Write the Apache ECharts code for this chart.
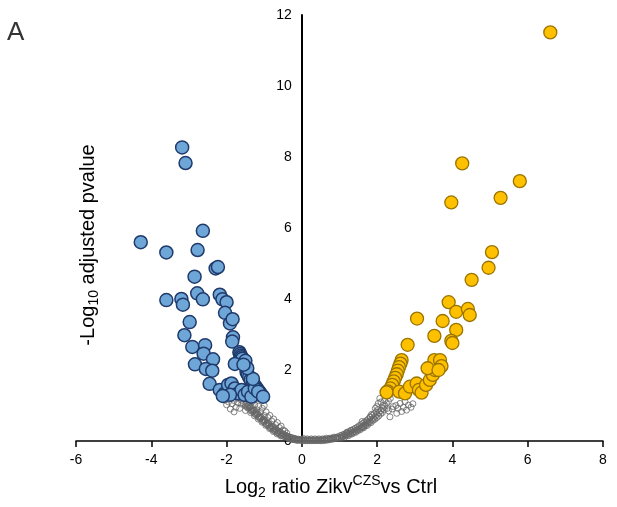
<!DOCTYPE html>
<html>
<head>
<meta charset="utf-8">
<script src="https://cdn.jsdelivr.net/npm/echarts@6/dist/echarts.min.js"></script>
<style>
  html, body { margin: 0; padding: 0; background: #fff; }
  #chart { width: 617px; height: 507px; }
</style>
</head>
<body>
<div id="chart"></div>
<script>
// Axis ticks
const xTicks = [-6, -4, -2, 0, 2, 4, 6, 8];
const yTicks = [0, 2, 4, 6, 8, 10, 12];

// Significantly down-regulated proteins [log2 ratio, -log10 adj. p]
const downRegulated = [
  [-3.18, 8.27], [-3.09, 7.83], [-2.63, 5.92], [-4.28, 5.60], [-3.60, 5.31], [-2.77, 5.38],
  [-2.29, 4.86], [-2.23, 4.90], [-2.85, 4.63], [-3.60, 3.97], [-3.20, 4.00], [-3.16, 3.84],
  [-2.78, 4.16], [-2.63, 3.99], [-2.18, 4.12], [-2.11, 3.99], [-2.00, 3.91], [-2.04, 3.61],
  [-1.91, 3.31], [-1.84, 3.43], [-2.98, 3.35], [-3.12, 2.98], [-1.83, 2.92], [-1.85, 2.80],
  [-2.91, 2.65], [-2.57, 2.70], [-2.61, 2.46], [-2.36, 2.30], [-2.84, 2.16], [-2.55, 2.03],
  [-2.38, 1.98], [-2.45, 1.61],
  [-1.66, 2.50], [-1.64, 2.45], [-1.62, 2.40], [-1.60, 2.36], [-1.58, 2.32], [-1.50, 2.26],
  [-1.78, 2.17], [-1.47, 1.95], [-1.44, 1.88], [-1.40, 1.80], [-1.36, 1.72], [-1.30, 1.65],
  [-1.26, 1.58], [-1.22, 1.52], [-1.18, 1.46], [-1.12, 1.38], [-1.07, 1.30],
  [-2.18, 1.44], [-2.05, 1.34], [-1.96, 1.58], [-1.87, 1.62], [-1.78, 1.48], [-1.69, 1.34],
  [-1.60, 1.44], [-1.52, 1.30], [-1.43, 1.39], [-1.34, 1.25], [-1.91, 1.30], [-2.10, 1.27],
  [-1.25, 1.48], [-1.16, 1.39], [-1.03, 1.25], [-1.30, 1.75], [-1.45, 2.05], [-1.55, 2.15]
];

// Significantly up-regulated proteins
const upRegulated = [
  [6.60, 11.51], [4.26, 7.82], [3.97, 6.72], [5.79, 7.32], [5.28, 6.85], [5.05, 5.32],
  [4.96, 4.88], [4.51, 4.54], [3.90, 3.91], [4.10, 3.64], [4.41, 3.72], [4.46, 3.55],
  [3.06, 3.45], [3.74, 3.38], [4.10, 3.13], [3.52, 2.96], [3.97, 2.82], [4.00, 2.76],
  [2.81, 2.71],
  [2.65, 2.28], [2.62, 2.18], [2.58, 2.08], [2.55, 1.98], [2.52, 1.88], [2.48, 1.78],
  [2.44, 1.68], [2.40, 1.58], [2.35, 1.48], [2.28, 1.40], [2.25, 1.37],
  [2.59, 1.39], [2.74, 1.34], [2.87, 1.53], [3.05, 1.62], [3.11, 1.44], [3.18, 1.36],
  [3.30, 1.58], [3.40, 1.72], [3.48, 1.86], [3.54, 2.00], [3.52, 2.28], [3.34, 2.05],
  [3.67, 2.28], [3.71, 2.11], [3.63, 2.00]
];

// Proteins below the significance threshold
const notSignificant = [
  // left branch
  [-1.90, 1.22], [-1.80, 1.14], [-1.70, 1.08], [-1.60, 1.04], [-1.55, 1.06],
  [-1.50, 1.02], [-1.45, 0.97], [-1.40, 0.92], [-1.35, 0.87], [-1.30, 0.83], [-1.25, 0.78],
  [-1.20, 0.73], [-1.15, 0.68], [-1.10, 0.63], [-1.05, 0.58], [-1.00, 0.53], [-0.95, 0.48],
  [-0.90, 0.44], [-0.85, 0.39], [-0.80, 0.35], [-0.75, 0.31], [-0.70, 0.27], [-0.65, 0.24],
  [-0.60, 0.20], [-0.55, 0.17], [-0.50, 0.14], [-0.45, 0.12], [-0.40, 0.10], [-0.35, 0.08],
  [-0.30, 0.06], [-0.25, 0.05], [-0.20, 0.04], [-0.15, 0.03], [-0.10, 0.02], [-0.05, 0.02],
  [-1.47, 1.06], [-1.42, 1.01], [-1.37, 0.96], [-1.32, 0.91], [-1.27, 0.86], [-1.22, 0.81],
  [-1.17, 0.76], [-1.12, 0.71], [-1.07, 0.66], [-1.02, 0.61], [-0.97, 0.56], [-0.92, 0.52],
  [-0.87, 0.47], [-0.82, 0.43], [-0.77, 0.39], [-0.72, 0.35], [-0.67, 0.31], [-0.62, 0.28],
  [-0.57, 0.24], [-0.52, 0.21], [-0.47, 0.18], [-0.42, 0.15], [-0.37, 0.13], [-0.32, 0.11],
  [-0.27, 0.09], [-0.22, 0.08], [-0.17, 0.06], [-0.12, 0.05], [-0.07, 0.04],
  [-1.44, 0.93], [-1.34, 0.84], [-1.24, 0.75], [-1.14, 0.66], [-1.04, 0.56], [-0.94, 0.47],
  [-0.84, 0.38], [-0.74, 0.30], [-0.64, 0.23], [-0.54, 0.16], [-0.44, 0.11], [-0.34, 0.07],
  [-0.24, 0.04], [-0.14, 0.02],
  [-1.39, 0.95], [-1.29, 0.86], [-1.19, 0.77], [-1.09, 0.68], [-0.99, 0.59], [-0.89, 0.50],
  [-0.79, 0.41], [-0.69, 0.33], [-0.59, 0.26], [-0.49, 0.19], [-0.39, 0.14], [-0.29, 0.10],
  [-0.19, 0.07], [-0.09, 0.05], [-1.49, 0.98], [-1.36, 0.80], [-1.26, 0.71], [-1.16, 0.62],
  [-1.06, 0.53], [-0.96, 0.44], [-0.86, 0.35], [-0.76, 0.27], [-0.66, 0.20], [-0.56, 0.14],
  [-2.05, 1.15], [-1.95, 1.10], [-1.85, 1.05], [-1.75, 0.95], [-1.90, 0.90], [-1.70, 1.20],
  [-1.60, 1.15], [-1.55, 1.24], [-1.45, 1.20], [-1.40, 1.08], [-1.50, 0.86], [-1.35, 0.98],
  [-1.30, 1.12], [-1.25, 1.02], [-1.20, 0.88], [-1.15, 0.98], [-1.10, 0.82], [-1.05, 0.92],
  [-1.00, 0.72], [-0.95, 0.82], [-0.90, 0.66], [-0.85, 0.72], [-0.80, 0.56], [-0.75, 0.62],
  [-0.70, 0.46], [-0.65, 0.52], [-0.60, 0.38], [-0.55, 0.42], [-0.50, 0.31], [-0.45, 0.28],
  [-0.40, 0.22], [-1.65, 0.92], [-1.80, 0.82], [-1.20, 1.18], [-1.00, 1.00], [-2.00, 1.02],
  // bottom
  [0.00, 0.01], [0.05, 0.01], [0.10, 0.01], [0.15, 0.01], [0.20, 0.01], [0.25, 0.01],
  [0.30, 0.01], [0.35, 0.01], [0.40, 0.01], [0.45, 0.01], [0.50, 0.01], [0.55, 0.01],
  [0.60, 0.02], [0.65, 0.02], [0.70, 0.03], [0.75, 0.04], [0.80, 0.05], [0.85, 0.06],
  [0.90, 0.07], [0.95, 0.08], [0.00, 0.05], [0.10, 0.04], [0.20, 0.04], [0.30, 0.04],
  [0.40, 0.04], [0.50, 0.04], [0.60, 0.05], [0.70, 0.06], [0.80, 0.08], [0.90, 0.10],
  [0.05, 0.07], [0.25, 0.06], [0.45, 0.06], [0.65, 0.08], [0.85, 0.11],
  [0.02, 0.03], [0.12, 0.02], [0.22, 0.02], [0.32, 0.02], [0.42, 0.03], [0.52, 0.03],
  [0.62, 0.03], [0.72, 0.05], [0.82, 0.07], [0.92, 0.09], [0.15, 0.06], [0.35, 0.06],
  [0.55, 0.06], [0.75, 0.08], [0.95, 0.12],
  // right branch
  [1.00, 0.10], [1.05, 0.12], [1.10, 0.14], [1.15, 0.16], [1.20, 0.18], [1.25, 0.20],
  [1.30, 0.23], [1.35, 0.25], [1.40, 0.28], [1.45, 0.31], [1.50, 0.34], [1.55, 0.37],
  [1.60, 0.40], [1.65, 0.44], [1.70, 0.47], [1.75, 0.51], [1.80, 0.55], [1.85, 0.60],
  [1.90, 0.64], [1.95, 0.69], [2.00, 0.75], [2.05, 0.80], [2.10, 0.86], [2.15, 0.92],
  [2.20, 0.98], [2.25, 1.05], [2.30, 1.12], [2.35, 1.20],
  [1.02, 0.15], [1.07, 0.17], [1.12, 0.19], [1.17, 0.22], [1.22, 0.24], [1.27, 0.27],
  [1.32, 0.30], [1.37, 0.33], [1.42, 0.36], [1.47, 0.39], [1.52, 0.43], [1.57, 0.46],
  [1.62, 0.50], [1.67, 0.54], [1.72, 0.58], [1.77, 0.62], [1.82, 0.67], [1.87, 0.72],
  [1.92, 0.77], [1.97, 0.82], [2.02, 0.88],
  [1.04, 0.08], [1.14, 0.11], [1.24, 0.15], [1.34, 0.20], [1.44, 0.25], [1.54, 0.31],
  [1.64, 0.37], [1.74, 0.44], [1.84, 0.52], [1.94, 0.61], [2.04, 0.70], [2.14, 0.80],
  [1.09, 0.12], [1.19, 0.15], [1.29, 0.19], [1.39, 0.24], [1.49, 0.30], [1.59, 0.36],
  [1.69, 0.43], [1.79, 0.50], [1.89, 0.58], [1.99, 0.66], [2.09, 0.76], [2.19, 0.88],
  [2.07, 1.20], [2.03, 1.06], [1.99, 0.97], [2.27, 0.92], [2.43, 0.97], [2.61, 1.06],
  [2.74, 1.11], [2.83, 1.01], [2.78, 0.87], [2.65, 0.83], [2.52, 0.78], [2.34, 0.68],
  [1.81, 0.68], [1.72, 0.54], [1.63, 0.40], [1.60, 0.55], [1.85, 0.75], [1.95, 0.92],
  [2.10, 1.10], [2.15, 1.00], [2.20, 1.15], [2.30, 0.85], [2.40, 0.90], [2.50, 1.00],
  [2.55, 0.92], [2.70, 0.95], [2.90, 0.95], [2.95, 1.05], [1.30, 0.30], [1.20, 0.25]
];

const chart = echarts.init(document.getElementById('chart'), null, { renderer: 'canvas' });
const FONT = 'Liberation Sans, Arial, sans-serif';

// grid geometry, used to put the y axis on x = 0
const GRID = { left: 76, right: 14, top: 15, bottom: 66 };
const plotWidth = 617 - GRID.left - GRID.right;
const xMin = xTicks[0], xMax = xTicks[xTicks.length - 1];
const zeroOffset = plotWidth * (0 - xMin) / (xMax - xMin);

chart.setOption({
  animation: false,
  backgroundColor: '#ffffff',
  grid: { left: GRID.left, right: GRID.right, top: GRID.top, bottom: GRID.bottom, containLabel: false },
  xAxis: {
    type: 'value',
    min: xMin,
    max: xMax,
    interval: xTicks[1] - xTicks[0],
    axisLine: { onZero: false, lineStyle: { color: '#000', width: 1.5 } },
    axisTick: { show: true, inside: false, length: 6, lineStyle: { color: '#000', width: 1.5 } },
    axisLabel: { color: '#000', fontSize: 14, fontFamily: FONT, margin: 12 },
    splitLine: { show: false }
  },
  yAxis: {
    type: 'value',
    position: 'left',
    offset: -zeroOffset,
    min: yTicks[0],
    max: yTicks[yTicks.length - 1],
    interval: yTicks[1] - yTicks[0],
    axisLine: { show: true, onZero: false, lineStyle: { color: '#000', width: 2 } },
    axisTick: { show: false },
    axisLabel: { color: '#000', fontSize: 14, fontFamily: FONT, margin: 10 },
    splitLine: { show: false }
  },
  graphic: [
    {
      type: 'text', left: 7, top: 20,
      style: { text: 'A', fontSize: 26, fontFamily: FONT, fill: '#333' }
    },
    {
      type: 'text', x: 331, y: 487,
      style: {
        text: '{a|Log}{sub|2}{a| ratio Zikv}{sup|CZS}{a|vs Ctrl}',
        align: 'center', verticalAlign: 'middle', fill: '#000', fontFamily: FONT,
        rich: {
          a: { fontSize: 20, lineHeight: 26, fontFamily: FONT, fill: '#000' },
          sub: { fontSize: 14, lineHeight: 14, verticalAlign: 'bottom', fontFamily: FONT, fill: '#000' },
          sup: { fontSize: 14, lineHeight: 14, verticalAlign: 'top', fontFamily: FONT, fill: '#000' }
        }
      }
    },
    {
      type: 'text', x: 88, y: 245, rotation: Math.PI / 2,
      style: {
        text: '{a|-Log}{sub|10}{a| adjusted pvalue}',
        align: 'center', verticalAlign: 'middle', fill: '#000', fontFamily: FONT,
        rich: {
          a: { fontSize: 20, lineHeight: 26, fontFamily: FONT, fill: '#000' },
          sub: { fontSize: 14, lineHeight: 14, verticalAlign: 'bottom', fontFamily: FONT, fill: '#000' }
        }
      }
    }
  ],
  series: [
    {
      name: 'Not significant', type: 'scatter', data: notSignificant, symbolSize: 6,
      itemStyle: { color: 'rgba(255,255,255,0)', borderColor: '#666', borderWidth: 1 },
      z: 2
    },
    {
      name: 'Down', type: 'scatter', data: downRegulated, symbolSize: 13,
      itemStyle: { color: '#6fa6d8', borderColor: '#1f3a6b', borderWidth: 1.5, opacity: 1 },
      z: 3
    },
    {
      name: 'Up', type: 'scatter', data: upRegulated, symbolSize: 13,
      itemStyle: { color: '#ffc000', borderColor: '#9a7400', borderWidth: 1.3, opacity: 1 },
      z: 3
    }
  ]
});
</script>
</body>
</html>
